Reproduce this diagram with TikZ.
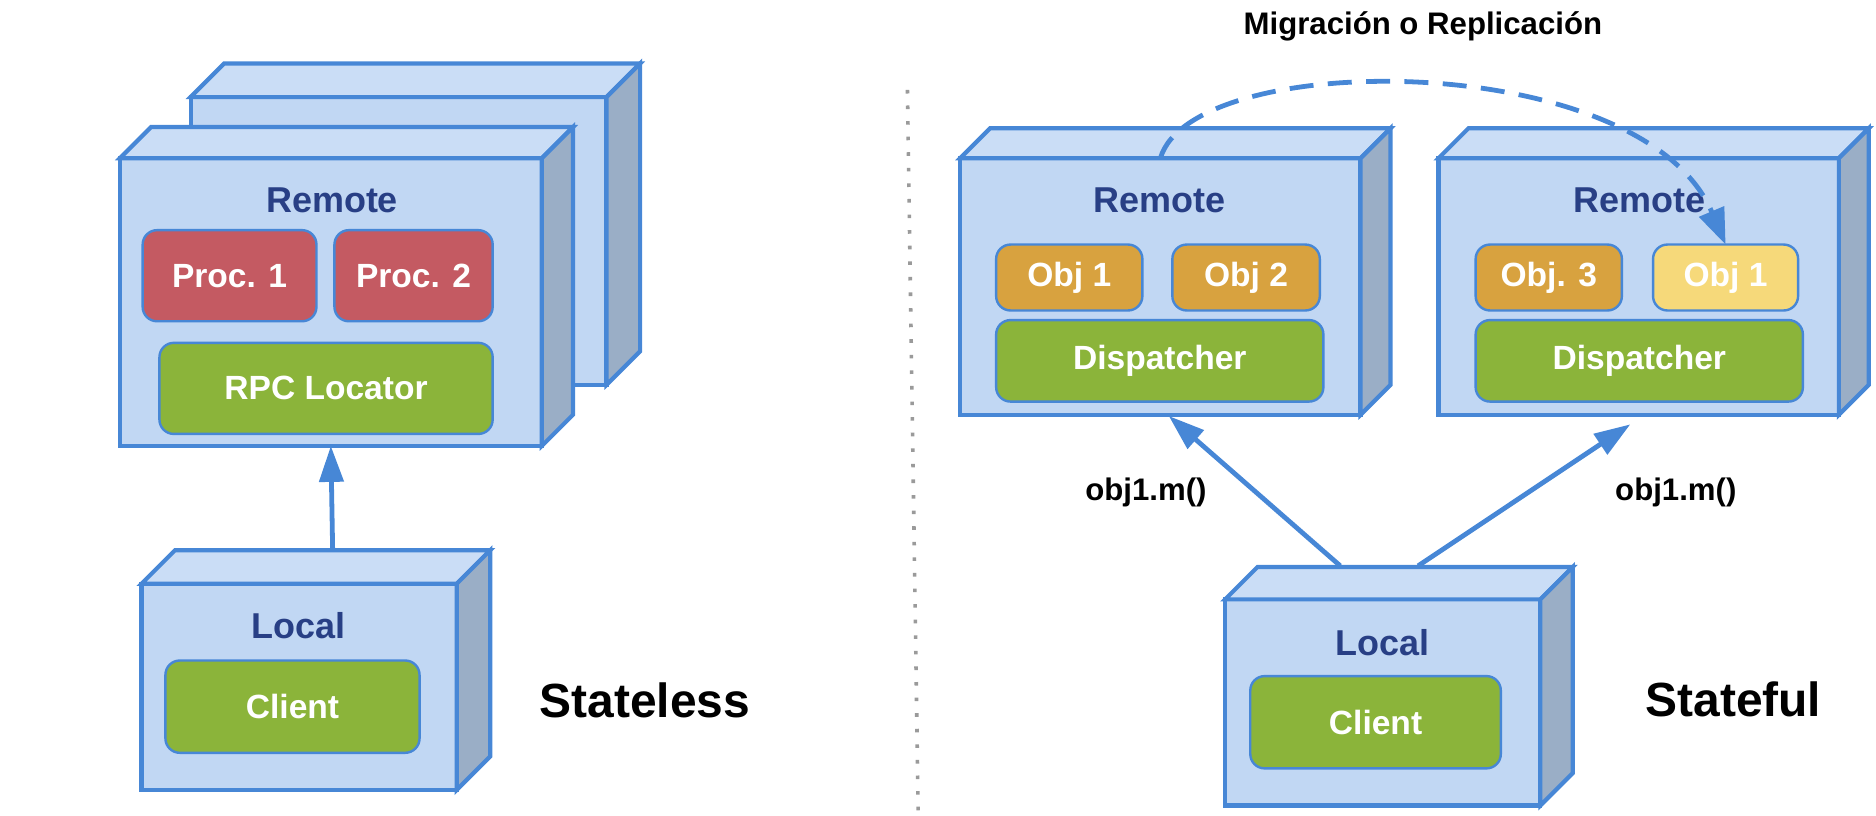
\documentclass[tikz,border=0pt]{standalone}
\usepackage{fontspec}
\setmainfont{Liberation Sans}
\usetikzlibrary{arrows.meta}
\definecolor{bordc}{HTML}{4787D6}
\definecolor{frontc}{HTML}{C1D7F3}
\definecolor{topc}{HTML}{CADDF6}
\definecolor{sidec}{HTML}{9AAEC6}
\definecolor{navy}{HTML}{283F85}
\definecolor{procc}{HTML}{C45A62}
\definecolor{greenc}{HTML}{8BB43A}
\definecolor{orangec}{HTML}{D8A23F}
\definecolor{yellowc}{HTML}{F6D97A}
\definecolor{divc}{HTML}{9A9A9A}
\tikzset{
  face/.style={draw=bordc, line width=3.5pt, fill=frontc, inner sep=0pt, outer sep=0pt, line join=miter},
  topface/.style={draw=bordc, line width=3.5pt, fill=topc, line join=miter},
  sideface/.style={draw=bordc, line width=3.5pt, fill=sidec, line join=miter},
  innerbox/.style={draw=bordc, line width=2pt, rounded corners=12pt, inner sep=0pt, outer sep=0pt, text=white, font=\fontsize{28}{30}\selectfont\bfseries},
  boxtitle/.style={text=navy, font=\fontsize{30}{32}\selectfont\bfseries},
  bigtitle/.style={text=black, font=\fontsize{40}{42}\selectfont\bfseries},
  callabel/.style={text=black, font=\fontsize{26}{28}\selectfont\bfseries},
  arr/.style={draw=bordc, line width=4pt, -{Triangle[length=30pt,width=20pt]}},
  dasharr/.style={draw=bordc, line width=4pt, dash pattern=on 20pt off 12pt, -{Triangle[length=30pt,width=22pt]}},
  divider/.style={draw=divc, line width=3pt, dash pattern=on 3pt off 10pt},
}
% cube: name, x1, y1, x2, y2 (front face), depth
\newcommand\mycube[6]{%
  \node[face, minimum width={#4-#2}, minimum height={#5-#3}] (#1) at ({(#2+#4)/2},{(#3+#5)/2}) {};
  \draw[topface] (#1.north west) -- ++(#6,-#6) -- ([shift={(#6,-#6)}]#1.north east) -- (#1.north east) -- cycle;
  \draw[sideface] (#1.north east) -- ++(#6,-#6) -- ([shift={(#6,-#6)}]#1.south east) -- (#1.south east) -- cycle;
}
\newcommand\inbox[7]{% name, x1, y1, x2, y2, fill, text
  \node[innerbox, fill=#6, minimum width={#4-#2}, minimum height={#5-#3}] (#1) at ({(#2+#4)/2},{(#3+#5)/2}) {#7};
}
\begin{document}
\begin{tikzpicture}[x=1pt,y=-1pt]
\useasboundingbox (0,0) rectangle (1565,680.7);

% ---------- Stateless ----------
\mycube{rsback}{159}{81}{506}{321}{28}
\mycube{rs}{100}{132}{452}{372}{26}
\node[boxtitle] (rst) at (277,167) {Remote};
\inbox{p1}{119}{192}{264}{268}{procc}{Proc. 1}
\inbox{p2}{279}{192}{411}{268}{procc}{Proc. 2}
\inbox{rpc}{133}{286}{411}{362}{greenc}{RPC Locator}

\mycube{ls}{118}{487}{381}{659}{28}
\node[boxtitle] (lst) at (249,522) {Local};
\inbox{c1}{138}{551}{350}{628}{greenc}{Client}
\node[bigtitle] (stl) at (538,584) {Stateless};

\coordinate (lstop) at ([shift={(28,-28)}]ls.north);
\draw[arr] (lstop) -- (rs.south);

% ---------- divider ----------
\coordinate (dtop) at (757,75);
\coordinate (dbot) at (766,680);
\draw[divider] (dtop) -- (dbot);

% ---------- Stateful ----------
\node[callabel, font=\fontsize{26}{28}\selectfont\bfseries] (mig) at (1187,22) {Migración o Replicación};

\mycube{r1}{801}{132}{1135}{346}{25}
\node[boxtitle] (r1t) at (967,167) {Remote};
\inbox{o1}{831}{204}{953}{259}{orangec}{Obj 1}
\inbox{o2}{978}{204}{1101}{259}{orangec}{Obj 2}
\inbox{d1}{831}{267}{1104}{335}{greenc}{Dispatcher}

\mycube{r2}{1200}{132}{1534}{346}{25}
\node[boxtitle] (r2t) at (1368,167) {Remote};
\inbox{o3}{1231}{204}{1353}{259}{orangec}{Obj. 3}
\inbox{o4}{1379}{204}{1500}{259}{yellowc}{Obj 1}
\inbox{d2}{1231}{267}{1504}{335}{greenc}{Dispatcher}

\mycube{lr}{1022}{500}{1285}{672}{27}
\node[boxtitle] (lrt) at (1153,536) {Local};
\inbox{c2}{1043}{564}{1252}{641}{greenc}{Client}
\node[bigtitle] (stf) at (1446,583) {Stateful};

\coordinate (la) at (1118,472);
\coordinate (lb) at (1183,472);
\coordinate (ta) at (975,347);
\coordinate (tb) at (1360,354);
\draw[arr] (la) -- (ta);
\draw[arr] (lb) -- (tb);
\node[callabel] (m1) at (956,411) {obj1.m()};
\node[callabel] (m2) at (1398,411) {obj1.m()};

\draw[dasharr] (r1.north) .. controls (995,40) and (1370,40) .. (o4.north);
\end{tikzpicture}
\end{document}
